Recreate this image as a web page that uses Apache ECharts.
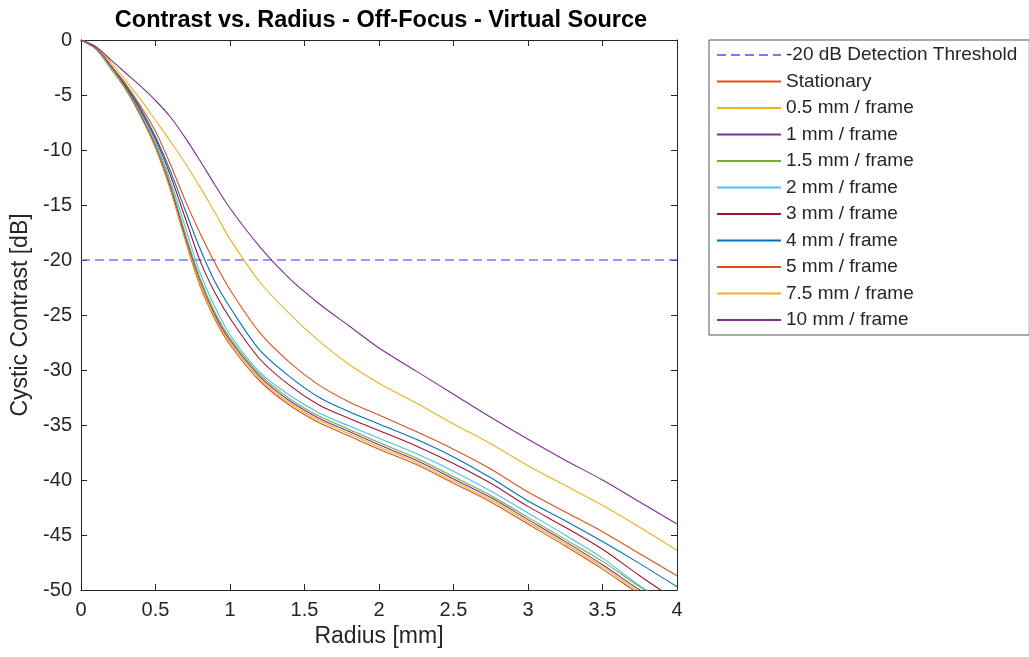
<!DOCTYPE html>
<html>
<head>
<meta charset="utf-8">
<script src="https://cdn.jsdelivr.net/npm/echarts@6/dist/echarts.min.js"></script>
<style>
  html, body { margin: 0; padding: 0; background: #fff; }
  #chart { width: 1029px; height: 657px; }
</style>
</head>
<body>
<div id="chart"></div>
<script>
// ---- Data ----
const titleText = 'Contrast vs. Radius - Off-Focus - Virtual Source';
const xName = 'Radius [mm]';
const yName = 'Cystic Contrast [dB]';

const xTicks = [0, 0.5, 1, 1.5, 2, 2.5, 3, 3.5, 4];
const yTicks = [0, -5, -10, -15, -20, -25, -30, -35, -40, -45, -50];

const thresholdName = '-20 dB Detection Threshold';
const thresholdX = [0, 4];
const thresholdY = [-20, -20];

const radius = [0, 0.1, 0.2, 0.3, 0.4, 0.5, 0.6, 0.7, 0.8, 0.9, 1.0, 1.2, 1.4, 1.6, 1.8, 2.0, 2.25, 2.5, 2.75, 3.0, 3.25, 3.5, 3.75, 4.0];

const seriesNames = ['Stationary', '0.5 mm / frame', '1 mm / frame', '1.5 mm / frame', '2 mm / frame',
                     '3 mm / frame', '4 mm / frame', '5 mm / frame', '7.5 mm / frame', '10 mm / frame'];

const stationary = [0, -0.8, -2.6, -4.5, -6.9, -9.8, -13.6, -18.2, -22.4, -25.4, -27.7, -31.0, -33.2, -34.8, -36.0, -37.2, -38.6, -40.3, -42.0, -44.0, -46.0, -48.1, -50.4, -52.5];
const v0_5 = [0, -0.8, -2.6, -4.5, -6.9, -9.7, -13.5, -18.0, -22.2, -25.2, -27.5, -30.8, -33.0, -34.6, -35.8, -37.0, -38.4, -40.1, -41.8, -43.8, -45.8, -47.9, -50.2, -52.3];
const v1 = [0, -0.8, -2.5, -4.4, -6.8, -9.6, -13.3, -17.8, -21.9, -25.0, -27.3, -30.6, -32.8, -34.4, -35.6, -36.8, -38.2, -39.9, -41.6, -43.6, -45.6, -47.7, -50.0, -52.1];
const v1_5 = [0, -0.8, -2.5, -4.4, -6.7, -9.5, -13.1, -17.6, -21.7, -24.8, -27.1, -30.4, -32.6, -34.2, -35.4, -36.6, -38.0, -39.7, -41.4, -43.4, -45.4, -47.4, -49.7, -51.8];
const v2 = [0, -0.8, -2.5, -4.3, -6.6, -9.3, -12.8, -17.0, -21.2, -24.3, -26.8, -30.2, -32.3, -33.9, -35.1, -36.2, -37.6, -39.2, -41.0, -43.0, -45.0, -47.1, -49.6, -51.7];
const v3 = [0, -0.7, -2.3, -4.2, -6.4, -9.0, -12.3, -16.2, -20.1, -23.0, -25.3, -29.0, -31.4, -33.2, -34.4, -35.5, -36.9, -38.5, -40.3, -42.4, -44.3, -46.3, -48.7, -51.0];
const v4 = [0, -0.7, -2.3, -4.1, -6.2, -8.8, -11.9, -15.5, -19.0, -22.0, -24.3, -28.2, -30.6, -32.5, -33.8, -34.9, -36.3, -37.9, -39.8, -41.9, -43.7, -45.6, -47.6, -49.7];
const v5 = [0, -0.7, -2.3, -4.0, -6.0, -8.3, -11.3, -14.6, -17.6, -20.3, -22.7, -26.6, -29.3, -31.4, -32.9, -34.1, -35.6, -37.2, -39.0, -41.1, -42.9, -44.7, -46.7, -48.7];
const v7_5 = [0, -0.6, -2.0, -3.7, -5.4, -7.3, -9.2, -11.2, -13.4, -15.7, -18.1, -22.0, -24.9, -27.4, -29.5, -31.2, -33.0, -34.9, -36.7, -38.7, -40.5, -42.3, -44.3, -46.4];
const v10 = [0, -0.6, -1.8, -3.0, -4.2, -5.5, -7.0, -8.9, -11.0, -13.2, -15.3, -18.8, -21.7, -24.0, -26.0, -28.0, -30.1, -32.2, -34.3, -36.3, -38.2, -40.0, -42.0, -44.0];

const seriesValues = [stationary, v0_5, v1, v1_5, v2, v3, v4, v5, v7_5, v10];

// MATLAB default colour order (blue consumed by the threshold line)
const seriesColors = ['#D95319', '#EDB120', '#7E2F8E', '#77AC30', '#4DBEEE', '#A2142F', '#0072BD', '#D95319', '#EDB120', '#7E2F8E'];

// ---- Chart ----
const FONT = "'Liberation Sans', Arial, Helvetica, sans-serif";
const AX = '#262626';
const chart = echarts.init(document.getElementById('chart'), null, { renderer: 'canvas' });

const series = [{
  name: thresholdName,
  type: 'line',
  data: thresholdX.map((x, i) => [x, thresholdY[i]]),
  symbol: 'none',
  lineStyle: { color: '#5555ff', width: 1.5, type: [9, 5], opacity: 0.8 },
  itemStyle: { color: '#5555ff' },
  z: 2
}];
seriesValues.forEach((vals, k) => {
  series.push({
    name: seriesNames[k],
    type: 'line',
    data: radius.map((r, i) => [r, vals[i]]),
    symbol: 'none',
    smooth: 0.3,
    clip: true,
    lineStyle: { color: seriesColors[k], width: 1.1 },
    itemStyle: { color: seriesColors[k] },
    z: 3 + k
  });
});

const axCommon = {
  axisLine: { show: true, onZero: false, lineStyle: { color: AX, width: 1 } },
  axisTick: { show: true, inside: true, length: 6, lineStyle: { color: AX } },
  splitLine: { show: false }
};

chart.setOption({
  animation: false,
  backgroundColor: '#ffffff',
  title: {
    text: titleText,
    left: 376,
    textAlign: 'center',
    top: 4,
    textStyle: { fontFamily: FONT, fontSize: 23.5, fontWeight: 'bold', color: '#000' }
  },
  grid: { left: 81, top: 40, width: 596, height: 550, containLabel: false },
  legend: {
    orient: 'vertical',
    left: 709,
    top: 40,
    padding: [5, 12, 5, 7],
    itemWidth: 64,
    itemHeight: 14,
    itemGap: 6.5,
    borderColor: '#555',
    borderWidth: 1,
    borderRadius: 0,
    backgroundColor: '#fff',
    itemStyle: { opacity: 0, borderWidth: 0 },
    textStyle: { fontFamily: FONT, fontSize: 19, color: AX, lineHeight: 20 },
    data: [thresholdName].concat(seriesNames)
  },
  xAxis: [
    Object.assign({
      type: 'value', min: 0, max: 4, interval: 0.5, position: 'bottom',
      name: xName, nameLocation: 'middle', nameGap: 33,
      nameTextStyle: { fontFamily: FONT, fontSize: 23, color: AX },
      axisLabel: { fontFamily: FONT, fontSize: 20, color: AX, margin: 10,
        formatter: v => String(xTicks.find(t => Math.abs(t - v) < 1e-9) ?? v) }
    }, axCommon),
    Object.assign({
      type: 'value', min: 0, max: 4, interval: 0.5, position: 'top',
      axisLabel: { show: false }
    }, axCommon)
  ],
  yAxis: [
    Object.assign({
      type: 'value', min: -50, max: 0, interval: 5, position: 'left',
      name: yName, nameLocation: 'middle', nameGap: 49,
      nameTextStyle: { fontFamily: FONT, fontSize: 23, color: AX },
      axisLabel: { fontFamily: FONT, fontSize: 20, color: AX, margin: 9,
        formatter: v => String(yTicks.find(t => Math.abs(t - v) < 1e-9) ?? v) }
    }, axCommon),
    Object.assign({
      type: 'value', min: -50, max: 0, interval: 5, position: 'right',
      axisLabel: { show: false }
    }, axCommon)
  ],
  series: series
});
</script>
</body>
</html>
